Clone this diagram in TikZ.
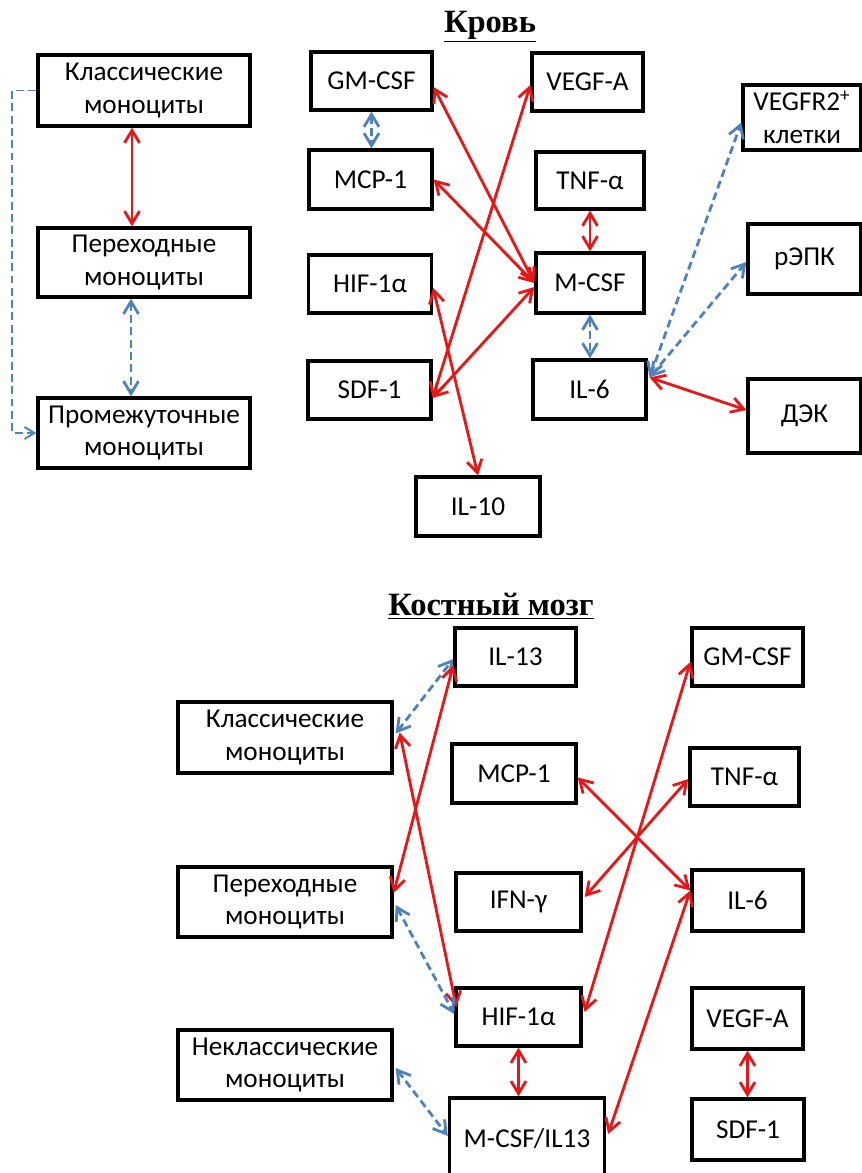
\documentclass[tikz,border=0pt]{standalone}
\usepackage{fontspec}
\setmainfont{Carlito}
\newfontfamily\titlefont{Liberation Serif}
\usepackage{tikz}
\usetikzlibrary{arrows.meta,calc}

\definecolor{arrred}{RGB}{232,22,22}
\definecolor{arrblue}{RGB}{79,129,189}

\begin{document}
\begin{tikzpicture}[x=0.02cm,y=-0.02cm,
    box/.style={draw,line width=1.9pt,align=center,inner sep=0pt,
      font=\fontsize{15.5}{18.7}\selectfont},
    sz/.style 2 args={minimum width=#1*0.02cm,minimum height=#2*0.02cm},
    title/.style={font=\titlefont\bfseries\fontsize{18.5}{20}\selectfont},
    redarr/.style={arrred,line width=1.6pt,
      {Straight Barb[length=2.5mm,width=3mm]}-{Straight Barb[length=2.5mm,width=3mm]}},
    bluearr/.style={arrblue,line width=1.6pt,dash pattern=on 4.5pt off 2.5pt,
      {Straight Barb[length=2.5mm,width=3mm]}-{Straight Barb[length=2.5mm,width=3mm]}}]
      \useasboundingbox (0,0) rectangle (862,1173);
      \clip (0,0) rectangle (862,1173);
      %% Blood
      \node[title] (t1) at (490,27) {\underline{Кровь}};
      \node[box,sz={212}{71}] (kl1) at (144,90.5) {Классические\\моноциты};
      \node[box,sz={212}{69}] (pe1) at (144,262.5) {Переходные\\моноциты};
      \node[box,sz={212}{70}] (pr1) at (144,433) {Промежуточные\\моноциты};
      \node[box,sz={121}{58}] (gm1) at (371.5,81) {GM-CSF};
      \node[box,sz={123}{59}] (mcp1) at (370.5,179.5) {MCP-1};
      \node[box,sz={123}{58}] (hif1) at (370,284) {HIF-1α};
      \node[box,sz={123}{58}] (sdf1) at (369.5,390) {SDF-1};
      \node[box,sz={124}{59}] (il101) at (478,506.5) {IL-10};
      \node[box,sz={111}{58}] (vegf1) at (587.5,82) {VEGF-A};
      \node[box,sz={108}{57}] (tnf1) at (590,180.5) {TNF-α};
      \node[box,sz={108}{60}] (mcsf1) at (590,283) {M-CSF};
      \node[box,sz={113}{59}] (il61) at (589.5,389.5) {IL-6};
      \node[box,sz={118}{65}] (vegfr) at (802,117.5) {VEGFR2\textsuperscript{+}\\клетки};
      \node[box,sz={113}{70}] (repk) at (804.5,259) {рЭПК};
      \node[box,sz={113}{74}] (dek) at (804.5,416) {ДЭК};
      %% Blood: monocytes
      \draw[redarr] ($(kl1.south)+(-12,0)$) -- ($(pe1.north)+(-12,0)$);
      \draw[bluearr] ($(pe1.south)+(-13,0)$) -- ($(pr1.north)+(-13,0)$);
      \draw[bluearr,-{Straight Barb[length=2mm,width=2.4mm]},line width=1.1pt]
        (kl1.west) -- ++(-24,0) |- (pr1.west);
      %% Blood: cytokines
      \draw[bluearr] (gm1.south) -- (gm1.south |- mcp1.north);
      \draw[redarr] ($(gm1.east)+(0,6)$) -- (mcsf1.west);
      \draw[redarr] (mcp1.east) -- (mcsf1.west);
      \draw[redarr] ($(vegf1.west)+(0,3)$) -- ($(sdf1.east)+(0,8)$);
      \draw[redarr] ($(mcsf1.west)+(0,4)$) -- ($(sdf1.east)+(0,8)$);
      \draw[redarr] ($(hif1.east)+(0,4)$) -- (il101.north);
      \draw[redarr] (tnf1.south) -- (mcsf1.north);
      \draw[bluearr] (mcsf1.south) -- (mcsf1.south |- il61.north);
      \draw[bluearr] ($(il61.east)+(2,-12)$) -- ($(vegfr.west)+(0,5)$);
      \draw[bluearr] ($(il61.east)+(2,-12)$) -- ($(repk.west)+(0,3)$);
      \draw[redarr] ($(il61.east)+(2,-12)$) -- ($(dek.west)+(0,-6)$);
      %% Bone marrow
      \node[title] (t2) at (491,606) {\underline{Костный мозг}};
      \node[box,sz={121}{58}] (il13) at (515.5,657) {IL-13};
      \node[box,sz={111}{58}] (gm2) at (747.5,657) {GM-CSF};
      \node[box,sz={214}{71}] (kl2) at (285,737.5) {Классические\\моноциты};
      \node[box,sz={124}{59}] (mcp2) at (514,773.5) {MCP-1};
      \node[box,sz={109}{58}] (tnf2) at (744.5,777) {TNF-α};
      \node[box,sz={214}{70}] (pe2) at (285,902) {Переходные\\моноциты};
      \node[box,sz={125}{58}] (ifn) at (518.5,902) {IFN-γ};
      \node[box,sz={111}{61}] (il62) at (747.5,900.5) {IL-6};
      \node[box,sz={125}{58}] (hif2) at (518.5,1017) {HIF-1α};
      \node[box,sz={111}{61}] (vegf2) at (747.5,1018.5) {VEGF-A};
      \node[box,sz={214}{70}] (nekl) at (285,1065) {Неклассические\\моноциты};
      \node[box,sz={155}{82}] (mcsf2) at (527,1139) {M-CSF/IL13};
      \node[box,sz={112}{61}] (sdf2) at (748,1129.5) {SDF-1};
      %% Bone marrow: monocytes
      \draw[bluearr] ($(kl2.east)+(2,-4)$) -- ($(il13.west)+(0,2)$);
      \draw[redarr] ($(il13.west)+(0,8)$) -- ($(pe2.east)+(0,-9)$);
      \draw[redarr] ($(kl2.east)+(6,-5)$) -- ($(hif2.west)+(2,-10)$);
      \draw[bluearr] ($(pe2.east)+(2,3)$) -- ($(hif2.west)+(0,-3)$);
      \draw[bluearr] ($(nekl.east)+(2,3)$) -- ($(mcsf2.west)+(0,-3)$);
      %% Bone marrow: cytokines
      \draw[redarr] (hif2.south) -- (hif2.south |- mcsf2.north);
      \draw[redarr] ($(gm2.west)+(0,5)$) -- ($(hif2.east)+(2,-5)$);
      \draw[redarr] ($(tnf2.west)+(0,2)$) -- ($(ifn.east)+(2,-5)$);
      \draw[redarr] ($(mcp2.east)+(0,4)$) -- ($(il62.west)+(0,-10)$);
      \draw[redarr] ($(il62.west)+(0,-10)$) -- ($(mcsf2.east)+(2,-5)$);
      \draw[redarr] (vegf2.south) -- (vegf2.south |- sdf2.north);
    \end{tikzpicture}
\end{document}
